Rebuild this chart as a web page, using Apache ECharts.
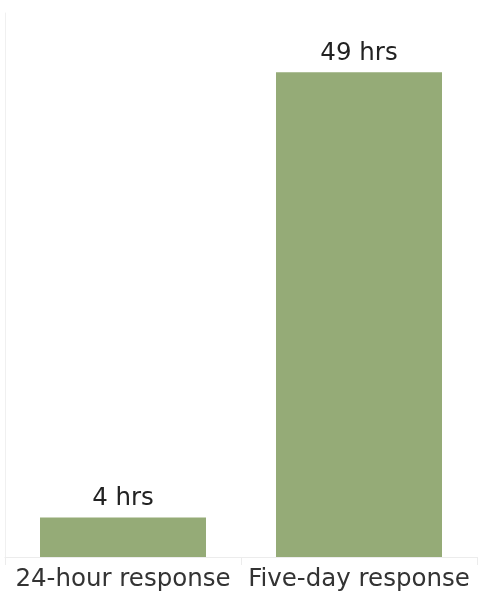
<!DOCTYPE html>
<html><head><meta charset="utf-8">
<style>html,body{margin:0;padding:0;background:#fff}#c{width:478px;height:599px}</style>
<script src="https://cdn.jsdelivr.net/npm/echarts@6/dist/echarts.min.js"></script>
</head><body><div id="c"></div>
<script>
const categories = ["24-hour response", "Five-day response"];
const hours = [4, 49];
const valueLabels = ["4 hrs", "49 hrs"];

const chart = echarts.init(document.getElementById('c'), null, {renderer: 'canvas'});
chart.setOption({
  animation: false,
  grid: {left: 5, right: 1, top: 13, bottom: 42},
  xAxis: {
    type: 'category',
    data: categories,
    axisLine: {show: true, lineStyle: {color: '#ececec', width: 1}},
    axisTick: {show: true, length: 8, lineStyle: {color: '#ececec'}},
    axisLabel: {fontFamily: 'DejaVu Sans', fontSize: 24.5, color: '#333', margin: 10, interval: 0}
  },
  yAxis: {
    type: 'value', min: 0, max: 55,
    axisLine: {show: true, lineStyle: {color: '#f0f0f0'}},
    axisTick: {show: false}, axisLabel: {show: false}, splitLine: {show: false}
  },
  series: [{
    type: 'bar',
    data: hours,
    barWidth: 166,
    itemStyle: {color: '#95ab77'},
    label: {
      show: true, position: 'top', distance: 6,
      fontFamily: 'DejaVu Sans', fontSize: 24.5, color: '#222',
      formatter: p => valueLabels[p.dataIndex]
    }
  }]
});
</script></body></html>
